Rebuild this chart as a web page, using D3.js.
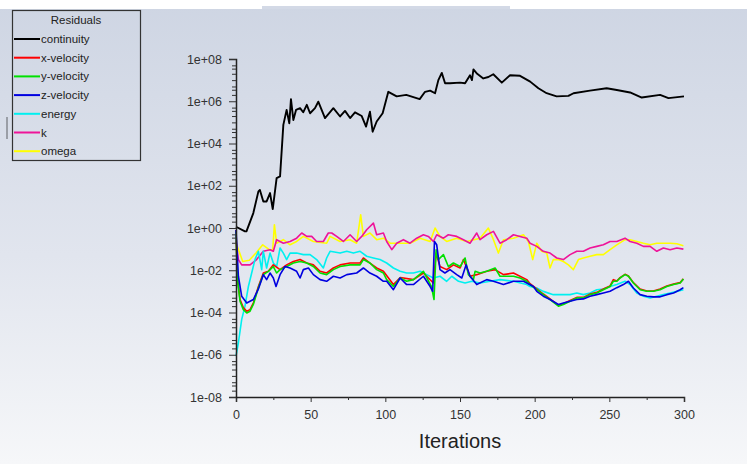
<!DOCTYPE html>
<html>
<head>
<meta charset="utf-8">
<script src="https://cdn.jsdelivr.net/npm/d3@7"></script>
<style>
  html, body { margin: 0; padding: 0; background: #fff; }
  svg { display: block; font-family: "Liberation Sans", Arial, sans-serif; }
</style>
</head>
<body>
<svg id="chart" width="747" height="464"></svg>
<script>
// residual history, [iteration, residual]
const continuity = [[0,1.15],[6,0.69],[7,0.69],[11.6,5.1],[15,54],[16,63],[18.3,18],[20.5,18],[22.8,45],[24.6,7.9],
  [27.2,230],[29.5,275],[31.7,7.6e4],[33.9,3.9e5],[35.7,9.1e4],[36.8,1.26e6],[38.4,1.3e5],[40.2,3.9e5],[42.9,4.7e5],
  [45,3.0e5],[47.4,6.8e5],[49.6,2.7e5],[52.9,4.7e5],[55.1,9.5e5],[59.6,1.6e5],[65.2,4.7e5],[69.7,1.9e5],[73,3.5e5],
  [76.4,1.6e5],[79.7,3.0e5],[84.2,2.0e5],[87.1,6.3e4],[89.7,3.2e5],[91.5,3.6e4],[94.2,1.1e5],[98.2,2.7e5],[102,2.8e6],
  [107.6,1.7e6],[114,2.0e6],[123,1.26e6],[126.6,2.8e6],[130,3.2e6],[133.3,2.4e6],[135.5,1.0e7],[137.8,2.2e7],[140,7.1e6],
  [143.3,7.1e6],[150,7.6e6],[153.4,7.1e6],[156.7,1.7e7],[158,1.0e7],[159,3.2e7],[161.5,2.0e7],[165.6,1.2e7],[169,1.4e7],
  [172.3,1.9e7],[178,7.6e6],[183.5,1.7e7],[190.2,1.6e7],[197,8.5e6],[202.5,4.1e6],[208,2.4e6],[214.7,1.7e6],[222.6,1.8e6],
  [226,2.4e6],[237,3.2e6],[248.2,4.1e6],[255,3.4e6],[263.9,2.6e6],[271.7,1.5e6],[284,2.0e6],[289.6,1.4e6],[300,1.7e6]];

const xVelocity = [[0,0.8],[0.9,0.0052],[2.7,0.00041],[4.9,0.00017],[7.2,0.000115],[9.4,0.000137],[11.6,0.00028],[15,0.0017],
  [18.3,0.0074],[21.7,0.0089],[25,0.018],[29.5,0.0107],[33.9,0.018],[38.4,0.026],[42.9,0.032],[47.4,0.022],[51.8,0.018],
  [56.3,0.0089],[60.7,0.0074],[65.2,0.0128],[69.7,0.018],[76.4,0.022],[83.1,0.022],[85.3,0.038],[89.7,0.022],[94.2,0.0128],
  [98.7,0.0089],[105.4,0.0021],[110,0.0045],[118.8,0.0036],[125.5,0.0074],[132.2,0.0025],[134,0.065],[136.6,0.015],
  [141.1,0.0107],[145.6,0.018],[150.1,0.0128],[152.3,0.032],[156.7,0.0052],[161.2,0.0062],[167.9,0.0089],[173.5,0.0107],
  [179.1,0.0062],[185.8,0.0074],[194.7,0.0036],[196.9,0.0023],[201.4,0.0013],[205.8,0.00075],[210.3,0.00044],[215.9,0.00022],
  [219.2,0.00026],[223.7,0.00037],[228.2,0.00052],[232.6,0.00052],[237.1,0.00075],[241.6,0.0009],[246,0.0013],[250.5,0.0018],
  [252.7,0.0036],[255,0.0031],[257.2,0.0045],[260.5,0.0064],[262.8,0.0054],[266.1,0.0026],[270.6,0.0013],[275.1,0.00105],
  [279.5,0.00105],[284,0.0013],[288.5,0.0018],[293,0.0022],[297.4,0.0026],[299.6,0.0039]];

const yVelocity = [[0,0.7],[0.9,0.004],[2.7,0.00034],[4.9,0.000137],[7.2,0.000095],[9.4,0.000115],[11.6,0.00024],[15,0.0015],
  [18.3,0.0062],[21.7,0.0089],[25,0.015],[27.2,0.0074],[29.5,0.0107],[33.9,0.015],[38.4,0.022],[42.9,0.026],[47.4,0.022],
  [51.8,0.015],[56.3,0.0074],[60.7,0.0062],[65.2,0.0107],[69.7,0.015],[76.4,0.018],[83.1,0.018],[85.3,0.032],[89.7,0.022],
  [94.2,0.0107],[98.7,0.0074],[100.9,0.0036],[105.4,0.0017],[109.9,0.0043],[114.3,0.003],[118.8,0.0036],[125.5,0.0089],
  [130.9,0.0017],[132.6,0.00041],[134,0.094],[135.5,0.032],[138.9,0.055],[142.2,0.015],[145.6,0.022],[150.1,0.015],
  [153.4,0.038],[155.6,0.0062],[159,0.0036],[160.1,0.0089],[163.4,0.0074],[167.9,0.0089],[173.5,0.0128],[176.8,0.0052],
  [181.3,0.0052],[185.8,0.0052],[190.2,0.0043],[194.7,0.003],[196.9,0.0021],[201.4,0.0012],[205.8,0.0007],[210.3,0.00041],
  [215.9,0.0002],[219.2,0.00024],[223.7,0.00034],[228.2,0.00049],[232.6,0.00049],[237.1,0.0007],[241.6,0.00084],
  [246,0.0012],[250.5,0.0017],[252.7,0.003],[255,0.003],[257.2,0.0043],[260.5,0.0062],[262.8,0.0052],[266.1,0.0025],
  [270.6,0.0012],[275.1,0.00101],[279.5,0.00101],[284,0.0012],[288.5,0.0017],[293,0.0021],[297.4,0.0025],[299.6,0.0039]];

const zVelocity = [[0,0.8],[1.6,0.0052],[3.8,0.00059],[7.2,0.00028],[11.6,0.00041],[15,0.0013],[18.3,0.0062],[20.5,0.0036],
  [22.8,0.0074],[25,0.0043],[26.8,0.0017],[29.5,0.0062],[32.8,0.015],[36.2,0.0128],[40.6,0.0089],[42.9,0.0043],[45.1,0.0107],
  [48.5,0.0128],[51.8,0.0062],[56.3,0.0036],[60.7,0.003],[65.2,0.0052],[69.7,0.0043],[74.2,0.0062],[80.8,0.0074],
  [85.3,0.0128],[89.7,0.0074],[94.2,0.0052],[98.7,0.003],[100.9,0.003],[105.4,0.0012],[109.9,0.0043],[114.3,0.0021],
  [118.8,0.0021],[125.5,0.0052],[130,0.0017],[131.7,0.00101],[132.9,0.23],[134.4,0.16],[136.6,0.0107],[139.9,0.0074],
  [143.3,0.0107],[147.8,0.0062],[151.2,0.0043],[154.1,0.018],[156.7,0.0052],[161.2,0.0021],[167.9,0.0036],[172.4,0.003],
  [179.1,0.0021],[185.8,0.003],[192.5,0.003],[199.2,0.0017],[201.4,0.00101],[205.8,0.00059],[210.3,0.00041],[215.9,0.00024],
  [219.2,0.00028],[223.7,0.00034],[228.2,0.00041],[232.6,0.00044],[237.1,0.00059],[241.6,0.0007],[246,0.00084],
  [250.5,0.00101],[255,0.0015],[259.4,0.0021],[262.8,0.003],[266.1,0.00145],[270.6,0.0007],[275.1,0.00059],[279.5,0.00055],
  [284,0.00055],[288.5,0.0007],[293,0.00084],[297.4,0.0012],[299.6,0.0015]];

const energy = [[0,8.6e-7],[1.6,3.7e-6],[3.8,4.6e-5],[6,0.0002],[8.3,0.0017],[10.5,0.0074],[12.7,0.032],[15,0.079],
  [17.2,0.0107],[18.3,0.079],[20.5,0.0128],[22.8,0.065],[25,0.022],[27.2,0.015],[29.5,0.113],[31.7,0.065],[33.9,0.032],
  [36.2,0.065],[40.6,0.065],[45.1,0.055],[49.6,0.055],[54,0.032],[58.5,0.0128],[60.7,0.038],[63,0.079],[69.7,0.065],
  [74.2,0.079],[78.6,0.065],[83.1,0.079],[87.5,0.046],[92,0.038],[96.4,0.032],[100.9,0.022],[105.4,0.0128],[109.9,0.0089],
  [114.3,0.0074],[118.8,0.0074],[123.3,0.0089],[127.7,0.0062],[132.2,0.0043],[136.6,0.0052],[141.1,0.003],[144.5,0.0052],
  [149,0.003],[153.4,0.0025],[157.9,0.003],[163.4,0.0025],[170.1,0.003],[176.8,0.0036],[185.8,0.003],[194.7,0.0021],
  [196.9,0.0017],[201.4,0.00145],[205.8,0.001],[212.5,0.0007],[219.2,0.0007],[223.7,0.0007],[228.2,0.00084],[232.6,0.0007],
  [237.1,0.00084],[241.6,0.0012],[246,0.0013],[250.5,0.0017],[255,0.0021],[260.5,0.003],[263.9,0.0021],[268.4,0.00084],
  [272.8,0.00059],[277.3,0.00049],[281.8,0.00059],[286.2,0.0007],[290.7,0.00084],[295.2,0.001],[299.6,0.0012]];

const kResid = [[0,0.25],[1.6,0.032],[3.8,0.018],[9.4,0.018],[13.8,0.032],[18.3,0.079],[22.8,0.094],[25,0.079],[27.2,0.28],
  [31.7,0.19],[36.2,0.23],[40.6,0.33],[44,0.58],[47.4,0.4],[50.7,0.4],[54,0.23],[58.5,0.23],[61.8,0.58],[64.1,0.58],
  [67.4,0.4],[71.9,0.23],[76.4,0.48],[80.8,0.23],[84.2,0.4],[87.5,0.83],[92,1.71],[94.2,0.48],[98.7,0.58],[100.9,0.23],
  [104.3,0.094],[107.6,0.19],[112.1,0.28],[116.5,0.19],[121,0.33],[125.5,0.48],[128.8,0.4],[132.2,0.23],[134.4,0.48],
  [138.9,0.33],[142.2,0.48],[147.8,0.4],[152.3,0.28],[156.7,0.19],[161.2,0.58],[163.4,0.28],[167.9,0.48],[172.4,0.69],
  [176.8,0.19],[181.3,0.28],[185.8,0.48],[190.2,0.4],[194.7,0.33],[196.9,0.19],[201.4,0.135],[205.8,0.079],[210.3,0.065],
  [214.8,0.038],[219.2,0.032],[223.7,0.055],[228.2,0.079],[232.6,0.079],[237.1,0.113],[241.6,0.135],[246,0.16],[250.5,0.23],
  [255,0.23],[260.5,0.33],[263.9,0.23],[268.4,0.19],[272.8,0.135],[277.3,0.135],[281.8,0.079],[286.2,0.113],[290.7,0.094],
  [295.2,0.113],[299.6,0.1]];

const omega = [[0,0.2],[4.5,0.026],[8.9,0.03],[13.4,0.066],[17.9,0.16],[22.3,0.094],[24.6,0.094],[25.7,1.43],[27.2,0.19],
  [31.7,0.28],[36.2,0.16],[40.6,0.23],[45.1,0.4],[51.8,0.23],[60.7,0.19],[63,0.4],[69.7,0.23],[76.4,0.28],[80.8,0.19],
  [83.5,4.2],[85.3,0.4],[89.7,0.58],[94.2,0.28],[98.7,0.33],[103.2,0.19],[109.9,0.19],[116.5,0.19],[123.3,0.33],[130,0.23],
  [133.3,1.0],[136.6,0.4],[141.1,0.23],[147.8,0.33],[154.5,0.23],[163.4,0.33],[169,1.0],[172.4,0.28],[175.7,0.065],
  [179.1,0.28],[185.8,0.33],[192.5,0.48],[195.8,0.23],[198.7,0.032],[201.4,0.19],[204.7,0.079],[208.1,0.065],[210.3,0.0128],
  [212.5,0.032],[215.9,0.032],[219.2,0.026],[222.6,0.018],[225.9,0.0107],[229.3,0.032],[232.6,0.038],[237.1,0.046],
  [241.6,0.055],[246,0.055],[250.5,0.094],[255,0.16],[260.5,0.28],[263.9,0.28],[268.4,0.23],[272.8,0.19],[277.3,0.16],
  [281.8,0.19],[286.2,0.19],[290.7,0.19],[295.2,0.18],[299.6,0.146]];

const seriesNames = ["continuity", "x-velocity", "y-velocity", "z-velocity", "energy", "k", "omega"];
const seriesData = [continuity, xVelocity, yVelocity, zVelocity, energy, kResid, omega];
const seriesColors = ["#000000", "#ff0000", "#00e000", "#0000e0", "#00f0f0", "#ee1499", "#ffff00"];

const xTicks = [0, 50, 100, 150, 200, 250, 300];
const xMinorTicks = [25, 75, 125, 175, 225, 275];
const yTicks = [1e8, 1e6, 1e4, 1e2, 1, 1e-2, 1e-4, 1e-6, 1e-8];
const yTickLabels = ["1e+08", "1e+06", "1e+04", "1e+02", "1e+00", "1e-02", "1e-04", "1e-06", "1e-08"];

const svg = d3.select("#chart");
const W = 747, H = 464;

// background gradient
const defs = svg.append("defs");
const grad = defs.append("linearGradient").attr("id", "bg").attr("x1", 0).attr("y1", 0).attr("x2", 0).attr("y2", 1);
grad.append("stop").attr("offset", "0%").attr("stop-color", "#ced5e3");
grad.append("stop").attr("offset", "55%").attr("stop-color", "#e1e5ee");
grad.append("stop").attr("offset", "100%").attr("stop-color", "#f6f7f9");

svg.append("rect").attr("width", W).attr("height", H).attr("fill", "url(#bg)");
svg.append("rect").attr("width", W).attr("height", 9).attr("fill", "#ffffff");
svg.append("rect").attr("x", 262).attr("y", 6).attr("width", 248).attr("height", 3).attr("fill", "#d3d9e6");
svg.append("rect").attr("x", 6).attr("y", 117).attr("width", 2).attr("height", 22).attr("fill", "#9a9ea6");

const x = d3.scaleLinear().domain([0, 300]).range([236, 684]);
const y = d3.scaleLog().domain([1e-8, 1e8]).range([397, 59]);

// lines (continuity drawn last so it sits on top)
const line = d3.line().x(d => x(d[0])).y(d => y(d[1]));
const order = [6, 5, 4, 1, 2, 3, 0];
order.forEach(i => {
  svg.append("path")
    .datum(seriesData[i])
    .attr("fill", "none")
    .attr("stroke", seriesColors[i])
    .attr("stroke-width", i === 0 ? 1.9 : 1.6)
    .attr("stroke-linejoin", "round")
    .attr("d", line);
});

// x axis
const xAxis = svg.append("g")
  .attr("transform", `translate(0,${y(1e-8)})`)
  .call(d3.axisBottom(x).tickValues(xTicks).tickSize(5).tickPadding(8).tickFormat(d3.format("d")));
xAxis.selectAll(".tick line").attr("stroke", "#333");
svg.append("g")
  .attr("transform", `translate(0,${y(1e-8)})`)
  .call(d3.axisBottom(x).tickValues(xMinorTicks).tickSize(3).tickFormat(""))
  .call(g => g.select(".domain").remove())
  .selectAll(".tick line").attr("stroke", "#333");

// y axis
const yAxis = svg.append("g")
  .attr("transform", `translate(${x(0)},0)`)
  .call(d3.axisLeft(y).tickValues(yTicks).tickSize(7).tickPadding(7).tickFormat((d, i) => yTickLabels[i]));
yAxis.selectAll(".tick line").attr("stroke", "#333");
const yMinor = [];
for (let e = -8; e < 8; e++) {
  [2, 3.5, 5, 10].forEach(m => { const v = m * Math.pow(10, e); if (v < 1e8 && Math.abs(Math.log10(v) % 2) > 1e-9) yMinor.push(v); });
}
svg.append("g")
  .attr("transform", `translate(${x(0)},0)`)
  .call(d3.axisLeft(y).tickValues(yMinor).tickSize(4).tickFormat(""))
  .call(g => g.select(".domain").remove())
  .selectAll(".tick line").attr("stroke", "#333");

[xAxis, yAxis].forEach(a => {
  a.select(".domain").attr("stroke", "#222").attr("stroke-width", 1.5);
  a.selectAll(".tick text").attr("fill", "#333").style("font-size", "12.5px")
    .style("font-family", "'Liberation Sans', Arial, sans-serif");
});

svg.append("text")
  .attr("x", (x(0) + x(300)) / 2)
  .attr("y", 448)
  .attr("text-anchor", "middle")
  .attr("fill", "#222")
  .style("font-size", "20px")
  .text("Iterations");

// legend
const legend = svg.append("g");
legend.append("rect")
  .attr("x", 12.5).attr("y", 10.5).attr("width", 128).attr("height", 150)
  .attr("fill", "none").attr("stroke", "#333").attr("stroke-width", 1.2);
legend.append("text")
  .attr("x", 76).attr("y", 24)
  .attr("text-anchor", "middle").attr("fill", "#222")
  .style("font-size", "11.5px")
  .text("Residuals");
seriesNames.forEach((name, i) => {
  const ly = 39 + i * 18.7;
  legend.append("line")
    .attr("x1", 14).attr("x2", 40).attr("y1", ly).attr("y2", ly)
    .attr("stroke", seriesColors[i]).attr("stroke-width", 2);
  legend.append("text")
    .attr("x", 41).attr("y", ly + 4)
    .attr("fill", "#222")
    .style("font-size", "11.5px")
    .text(name);
});
</script>
</body>
</html>
